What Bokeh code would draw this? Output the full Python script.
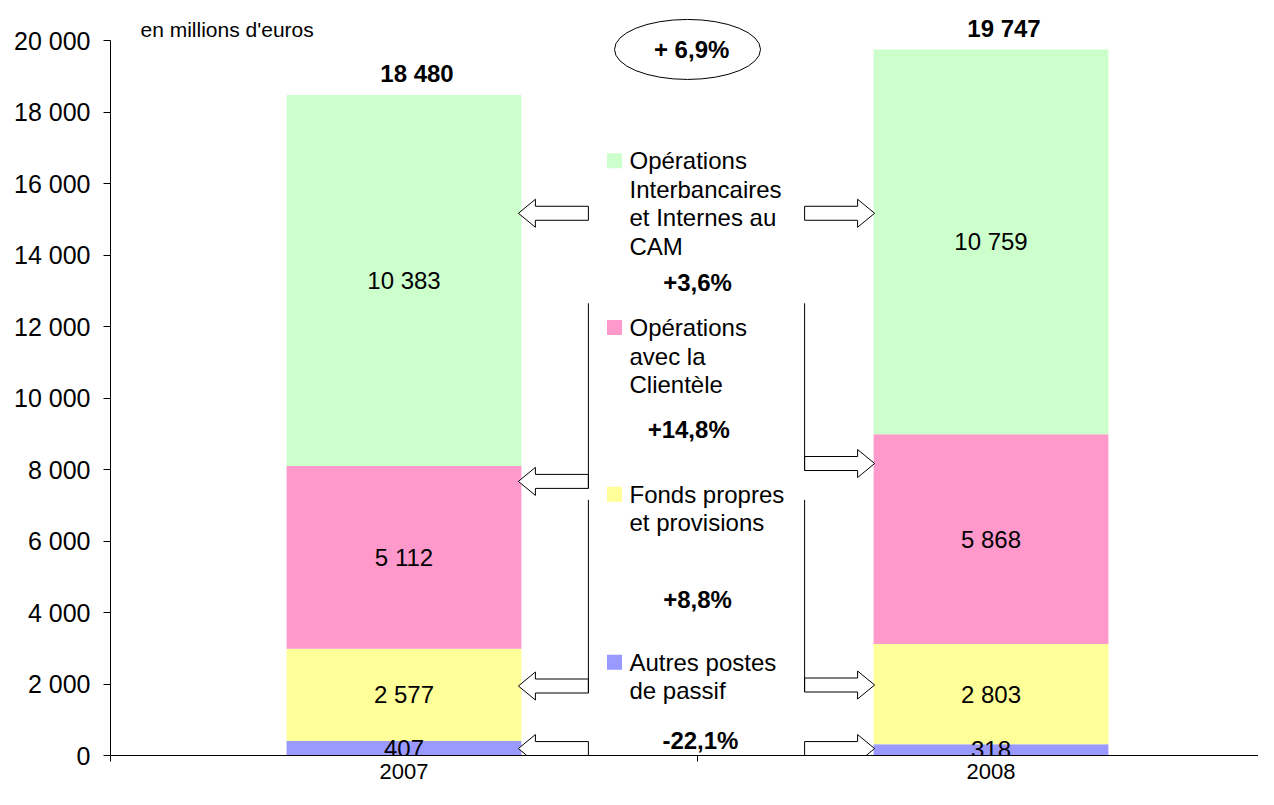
import numpy as np
from bokeh.plotting import figure
from bokeh.models import FixedTicker, Range1d
from bokeh.embed import file_html
from bokeh.resources import INLINE
from bokeh.core.properties import value

# ---------------- data ----------------
years = ["2007", "2008"]
# stacked from bottom to top
series_names = [
    ["Autres postes", "de passif"],
    ["Fonds propres", "et provisions"],
    ["Opérations", "avec la", "Clientèle"],
    ["Opérations", "Interbancaires", "et Internes au", "CAM"],
]
autres = [407, 318]
fonds_propres = [2577, 2803]
clientele = [5112, 5868]
interbancaires = [10383, 10759]
totals = [18480, 19747]
growth_total = "+ 6,9%"
growth_by_series = ["-22,1%", "+8,8%", "+14,8%", "+3,6%"]
colors = ["#9999FF", "#FFFF99", "#FF99CC", "#CCFFCC"]
y_ticks = list(range(0, 20001, 2000))
unit_label = "en millions d'euros"

# annotation levels (value units)
legend_levels = [2611, 7306, 11972, 16639]
growth_levels = [417, 4361, 9111, 13222]
growth_x = [1.005, 1.0, 0.985, 1.0]
arrow_levels_left = [194, 1944, 7667, 15167]
arrow_levels_right = [194, 1972, 8167, 15167]
connector_top = [None, 7150, 12650, None]
ellipse_level = 19750
unit_level = 20306


def fmt(v):
    return f"{v:,}".replace(",", " ")


series = [autres, fonds_propres, clientele, interbancaires]
stack = np.array(series, dtype=float)
tops = np.cumsum(stack, axis=0)
bottoms = tops - stack
xc = np.array([0.5, 1.5])

# ---------------- geometry ----------------
W, H = 1258, 789
LEFT, BOTTOM = 110, 34
TOP_PX = 40                      # pixel row of the 20 000 gridline
frame_w = W - LEFT
frame_h = H - BOTTOM
PX_X = 587.0                     # pixels per category
PX_Y = (frame_h - TOP_PX) / 20000.0
y_end = frame_h / PX_Y
x_end = frame_w / PX_X

FONT = "Liberation Sans"
FS = "24px"

p = figure(width=W, height=H, output_backend="svg", toolbar_location=None,
           x_range=Range1d(0, x_end), y_range=Range1d(0, y_end))
p.min_border_left = LEFT
p.min_border_right = 0
p.min_border_top = 0
p.min_border_bottom = BOTTOM
p.outline_line_color = None
p.grid.visible = False
p.background_fill_color = "white"
p.border_fill_color = "white"

# bars
bar_w = 0.4
for i, col in enumerate(colors):
    p.vbar(x=xc, bottom=bottoms[i], top=tops[i], width=bar_w,
           fill_color=col, line_color=None)

# segment labels
for i in range(len(series)):
    mids = (bottoms[i] + tops[i]) / 2
    p.text(x=xc, y=mids, text=[fmt(v) for v in series[i]],
           text_font=value(FONT), text_font_size=FS,
           text_align="center", text_baseline="middle", text_color="black")

# totals
p.text(x=xc, y=totals, text=[fmt(v) for v in totals], x_offset=13, y_offset=-8,
       text_font=value(FONT), text_font_size=FS, text_font_style="bold",
       text_align="center", text_baseline="bottom", text_color="black")

# overall growth in ellipse
p.ellipse(x=[0.983], y=[ellipse_level], width=146, height=60,
          width_units="screen", height_units="screen",
          fill_color=None, line_color="black", line_width=1)
p.text(x=[0.99], y=[ellipse_level], text=[growth_total],
       text_font=value(FONT), text_font_size=FS, text_font_style="bold",
       text_align="center", text_baseline="middle", text_color="black")

# unit label
p.text(x=[30 / PX_X], y=[unit_level], text=[unit_label],
       text_font=value(FONT), text_font_size="21px",
       text_align="left", text_baseline="middle", text_color="black")

# legend-like labels in the middle
sq_x = 504 / PX_X
tx_x = 519 / PX_X
line_step = 28.5 / PX_Y
p.scatter(x=[sq_x] * 4, y=legend_levels, marker="square", size=15,
          fill_color=colors, line_color=None)
for lvl, lines in zip(legend_levels, series_names):
    ys = [lvl - k * line_step for k in range(len(lines))]
    p.text(x=[tx_x] * len(lines), y=ys, text=lines,
           text_font=value(FONT), text_font_size=FS,
           text_align="left", text_baseline="middle", text_color="black")

# growth labels per series
p.text(x=growth_x, y=growth_levels, text=growth_by_series,
       text_font=value(FONT), text_font_size=FS, text_font_style="bold",
       text_align="center", text_baseline="middle", text_color="black")

# block arrows
head_len, length, head_h, shaft_h = 17, 70, 14, 7
dx = 1 / PX_X
dy = 1 / PX_Y


def arrow(tip_x, yc, direction):
    s = direction  # -1 points left, +1 points right
    xs = [tip_x,
          tip_x - s * head_len * dx, tip_x - s * head_len * dx,
          tip_x - s * length * dx, tip_x - s * length * dx,
          tip_x - s * head_len * dx, tip_x - s * head_len * dx]
    ys = [yc, yc + head_h * dy, yc + shaft_h * dy, yc + shaft_h * dy,
          yc - shaft_h * dy, yc - shaft_h * dy, yc - head_h * dy]
    return xs, ys


left_tip = xc[0] + bar_w / 2 - 3 * dx
right_tip = xc[1] - bar_w / 2 + 1 * dx
axs, ays = [], []
for lvl in arrow_levels_left:
    a, b = arrow(left_tip, lvl, -1)
    axs.append(a); ays.append(b)
for lvl in arrow_levels_right:
    a, b = arrow(right_tip, lvl, 1)
    axs.append(a); ays.append(b)
p.patches(xs=axs, ys=ays, fill_color="white", line_color="black", line_width=1)

# vertical connectors
seg_x0, seg_y0, seg_x1, seg_y1 = [], [], [], []
for i, top in enumerate(connector_top):
    if top is None:
        continue
    lx = left_tip + length * dx
    rx = right_tip - length * dx
    seg_x0 += [lx, rx]
    seg_x1 += [lx, rx]
    seg_y0 += [top, top]
    seg_y1 += [arrow_levels_left[i] - shaft_h * dy, arrow_levels_right[i] - shaft_h * dy]
p.segment(x0=seg_x0, y0=seg_y0, x1=seg_x1, y1=seg_y1, line_color="black", line_width=1)

# axes
p.yaxis.ticker = FixedTicker(ticks=y_ticks, minor_ticks=[])
p.yaxis.major_label_overrides = {t: fmt(t) for t in y_ticks}
p.yaxis.bounds = (0, 20000)
p.yaxis.major_tick_out = 7
p.yaxis.major_tick_in = 0
p.yaxis.major_label_standoff = 13
p.yaxis.axis_line_color = "black"
p.yaxis.major_tick_line_color = "black"
p.yaxis.major_label_text_font = FONT
p.yaxis.major_label_text_font_size = "25px"
p.yaxis.major_label_text_color = "black"

p.xaxis.ticker = FixedTicker(ticks=[0.5, 1.5], minor_ticks=[0, 1, 2])
p.xaxis.major_label_overrides = {0.5: years[0], 1.5: years[1]}
p.xaxis.major_tick_line_color = None
p.xaxis.major_tick_out = 0
p.xaxis.major_tick_in = 0
p.xaxis.minor_tick_out = 6
p.xaxis.minor_tick_in = 0
p.xaxis.minor_tick_line_color = "black"
p.xaxis.axis_line_color = "black"
p.xaxis.major_label_standoff = 2
p.xaxis.major_label_text_font = FONT
p.xaxis.major_label_text_font_size = "22px"
p.xaxis.major_label_text_color = "black"

open("out.html", "w").write(file_html(p, INLINE))
